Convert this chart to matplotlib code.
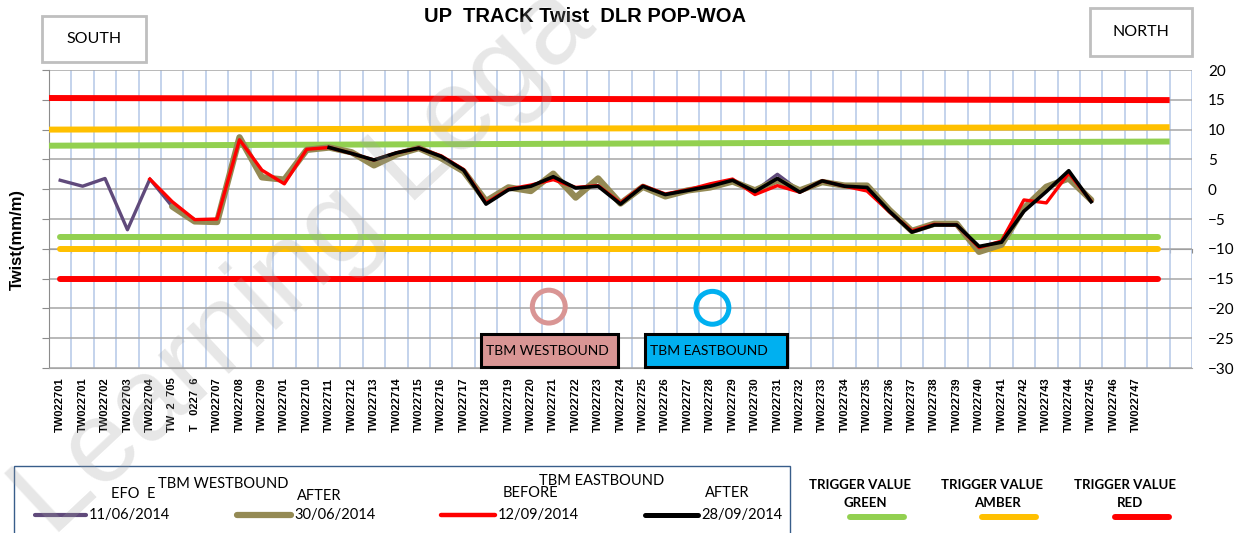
import numpy as np
import matplotlib
matplotlib.use("Agg")
import matplotlib.pyplot as plt
from matplotlib.lines import Line2D
from matplotlib.patches import Rectangle

W, H = 1245, 533
nan = np.nan

# --- data -------------------------------------------------------------
CATEGORIES = (["TW022701", "TW022701", "TW022702", "TW022703", "TW022704",
               "TW  2  705", "T   0227  6", "TW022707", "TW022708", "TW022709",
               "TW022701"]
              + [f"TW0227{n}" for n in range(10, 48)]
              + ["", ""])

WB_BEFORE_1106 = [1.5, 0.5, 1.8, -6.8, 1.7, -2.9, -5.4, -5.5, 8.7, 2.0, 1.6,
                  6.6, 7.0, 6.2, 4.0, 5.8, 6.9, 5.2, 3.0, -2.2, 0.3, -0.1,
                  2.5, -1.3, 1.7, -2.4, 0.4, -1.1, -0.2, 0.4, 1.4, -0.3, 2.5,
                  -0.3, 1.3, 0.6, 0.5, -3.6, -7.1, -5.9, -5.9, -10.2, -9.2,
                  -3.4, 0.2, 2.0, -1.9]
WB_AFTER_3006 = [nan] * 5 + [-2.9, -5.4, -5.5, 8.7, 2.0, 1.6, 6.6, 7.0, 6.2,
                             4.0, 5.8, 6.9, 5.2, 3.0, -2.0, 0.3, -0.3, 2.6,
                             -1.4, 1.8, -2.4, 0.4, -1.2, -0.2, 0.3, 1.3, -0.2,
                             1.5, -0.2, 1.2, 0.6, 0.6, -3.5, -7.0, -5.8, -5.8,
                             -10.5, -9.3, -3.2, 0.4, 1.8, -1.8]
EB_BEFORE_1209 = [nan] * 4 + [1.7, -2.1, -5.1, -5.0, 8.3, 3.2, 0.9, 6.7, 7.0,
                              6.0, 4.9, 6.1, 6.9, 5.6, 3.3, -2.3, 0.0, 0.7,
                              1.6, 0.3, 0.6, -2.3, 0.6, -0.8, -0.1, 0.9, 1.7,
                              -0.9, 0.6, -0.5, 1.4, 0.5, -0.3, -3.8, -7.0,
                              -5.9, -6.0, -9.8, -8.7, -1.8, -2.3, 2.7, -2.0]
EB_AFTER_2809 = [nan] * 12 + [7.0, 6.0, 4.9, 6.1, 6.9, 5.5, 3.2, -2.5, -0.1,
                              0.5, 2.1, 0.2, 0.5, -2.5, 0.5, -0.9, -0.2, 0.5,
                              1.5, -0.4, 1.8, -0.5, 1.4, 0.5, 0.3, -3.7, -7.2,
                              -6.0, -6.0, -9.6, -8.9, -3.7, -0.4, 3.1, -2.1]

# trigger lines (start / end category, value at start / end)
TRIG_X_UPPER = [-0.5, 49.5]
TRIG_X_LOWER = [0, 49]
RED_UPPER = [15.3, 14.95]
AMBER_UPPER = [10.0, 10.4]
GREEN_UPPER = [7.3, 8.0]
GREEN_LOWER = [-8.0, -8.0]
AMBER_LOWER = [-10.0, -10.0]
RED_LOWER = [-15.0, -15.0]

Y_TICKS = [20, 15, 10, 5, 0, -5, -10, -15, -20, -25, -30]

C_PURPLE = "#604A7B"
C_OLIVE = "#948A54"
C_RED = "#FF0000"
C_BLACK = "#000000"
C_GREEN = "#92D050"
C_AMBER = "#FFC000"

SANS = "Liberation Sans"
CAL = "Lato"


def fx(x):
    return x / W


def fy(y):
    return 1 - y / H


fig = plt.figure(figsize=(W / 100, H / 100), dpi=100)
ax = fig.add_axes([fx(49), fy(368), (1192 - 49) / W, (368 - 70) / H])

n = len(CATEGORIES)
x = np.arange(n)

# trigger lines
for vals, col in [(RED_UPPER, C_RED), (AMBER_UPPER, C_AMBER), (GREEN_UPPER, C_GREEN)]:
    ax.plot(TRIG_X_UPPER, vals, color=col, lw=4.3, solid_capstyle="butt", zorder=3)
for vals, col in [(GREEN_LOWER, C_GREEN), (AMBER_LOWER, C_AMBER), (RED_LOWER, C_RED)]:
    ax.plot(TRIG_X_LOWER, vals, color=col, lw=4.3, solid_capstyle="round", zorder=3)

# survey series
ax.plot(x[:len(WB_BEFORE_1106)], WB_BEFORE_1106, color=C_PURPLE, lw=2.4, zorder=4)
ax.plot(x[:len(WB_AFTER_3006)], WB_AFTER_3006, color=C_OLIVE, lw=4.6, zorder=5,
        solid_capstyle="round", solid_joinstyle="round")
ax.plot(x[:len(EB_BEFORE_1209)], EB_BEFORE_1209, color=C_RED, lw=2.4, zorder=6)
ax.plot(x[:len(EB_AFTER_2809)], EB_AFTER_2809, color=C_BLACK, lw=2.6, zorder=7)

ax.set_xlim(-0.5, n - 0.5)
ax.set_ylim(-30, 20)

# grid
ax.set_yticks(Y_TICKS)
ax.set_xticks(np.arange(-0.5, n, 1), minor=True)
ax.grid(axis="y", which="major", color="#A6A6A6", lw=1.1, zorder=1)
ax.grid(axis="x", which="minor", color="#B4C7E7", lw=1.1, zorder=1)
ax.set_axisbelow(True)

for side in ["top", "right"]:
    ax.spines[side].set_visible(False)
ax.spines["left"].set_color("#8C8C8C")
ax.spines["bottom"].set_color("#A6A6A6")

ax.set_xticks(x)
ax.set_xticklabels(CATEGORIES, rotation=90, fontsize=8, fontweight="bold",
                   family=SANS)
ax.tick_params(axis="x", which="both", length=0, pad=7)
ax.tick_params(axis="y", which="major", left=True, right=False, labelleft=False,
               labelright=True, length=5, color="#8C8C8C", pad=6.5,
               labelsize=11)
for t in ax.get_yticklabels():
    t.set_family(CAL)

# category axis crossing at -10
sec = ax.secondary_xaxis(0.4)
sec.set_xticks(np.arange(-0.5, n, 1))
sec.set_xticklabels([])
sec.tick_params(length=3, color="#8C8C8C", direction="out")
sec.spines["bottom"].set_color("#8C8C8C")

# annotation rings and boxes
ax.scatter([21.8], [-19.7], s=560, facecolors="none", edgecolors="#D99594",
           linewidths=3.6, zorder=8)
ax.scatter([29.1], [-19.9], s=560, facecolors="none", edgecolors="#00B0F0",
           linewidths=3.6, zorder=8)

for (x0, x1, col, txt) in [(481, 618, "#D99594", "TBM WESTBOUND"),
                           (645, 787, "#00B0F0", "TBM EASTBOUND")]:
    fig.add_artist(Rectangle((fx(x0), fy(367)), (x1 - x0) / W, (367 - 334) / H,
                             transform=fig.transFigure, facecolor=col,
                             edgecolor="black", lw=2.2, zorder=9))
    fig.text(fx(x0 + 5), fy(351), txt, fontsize=10, family=CAL, va="center",
             ha="left", zorder=10)

# title, y label, direction boxes
fig.text(fx(585), fy(16), "UP  TRACK Twist  DLR POP-WOA", fontsize=14.5,
         fontweight="bold", family=SANS, ha="center", va="center")
fig.text(fx(17), fy(239), "Twist(mm/m)", fontsize=12, fontweight="bold",
         family=SANS, rotation=90, ha="center", va="center")
for (x0, y0, x1, y1, txt) in [(42, 16, 146, 62, "SOUTH"), (1090, 8, 1192, 56, "NORTH")]:
    fig.add_artist(Rectangle((fx(x0), fy(y1)), (x1 - x0) / W, (y1 - y0) / H,
                             transform=fig.transFigure, facecolor="white",
                             edgecolor="#BFBFBF", lw=2))
    fig.text(fx((x0 + x1) / 2), fy((y0 + y1) / 2), txt, fontsize=11.5, family=CAL,
             ha="center", va="center")

# legend (series)
fig.add_artist(Rectangle((fx(14), fy(545)), (790 - 14) / W, (545 - 466) / H,
                         transform=fig.transFigure, facecolor="white",
                         edgecolor="#385D8A", lw=1))
fig.text(fx(223), fy(484), "TBM WESTBOUND", fontsize=10.5, family=CAL, ha="center", va="center")
fig.text(fx(602), fy(481), "TBM EASTBOUND", fontsize=10.5, family=CAL, ha="center", va="center")
for (tx, ty, txt) in [(133, 494, "EFO  E"), (319, 496, "AFTER"),
                      (530, 493, "BEFORE"), (727, 493, "AFTER")]:
    fig.text(fx(tx), fy(ty), txt, fontsize=10.5, family=CAL, ha="center", va="center")
for (x0, x1, col, lw, txt) in [(35, 86, C_PURPLE, 3, "11/06/2014"),
                               (237, 291, C_OLIVE, 4.5, "30/06/2014"),
                               (441, 495, C_RED, 3.2, "12/09/2014"),
                               (645, 698, C_BLACK, 3.6, "28/09/2014")]:
    fig.add_artist(Line2D([fx(x0), fx(x1)], [fy(515), fy(515)], color=col, lw=lw,
                          transform=fig.transFigure, solid_capstyle="round"))
    fig.text(fx(x1 + 3), fy(515), txt, fontsize=10.5, family=CAL, ha="left", va="center")

# legend (triggers)
for (cx, col, name) in [(860, C_GREEN, "GREEN"), (992, C_AMBER, "AMBER"),
                        (1125, C_RED, "RED")]:
    fig.text(fx(cx), fy(485), "TRIGGER VALUE", fontsize=9.5, fontweight="bold",
             family=CAL, ha="center", va="center")
    fig.text(fx(cx + 5), fy(503), name, fontsize=9.5, fontweight="bold",
             family=CAL, ha="center", va="center")
    fig.add_artist(Line2D([fx(cx - 10), fx(cx + 44)], [fy(517), fy(517)], color=col,
                          lw=4.3, transform=fig.transFigure, solid_capstyle="round"))

# watermark
fig.text(fx(305), fy(262), "Learning Lega", fontsize=84, color="#A0A0A0",
         alpha=0.25, rotation=43, ha="center", va="center", family=SANS,
         zorder=20)

fig.savefig("out.png", dpi=100)
